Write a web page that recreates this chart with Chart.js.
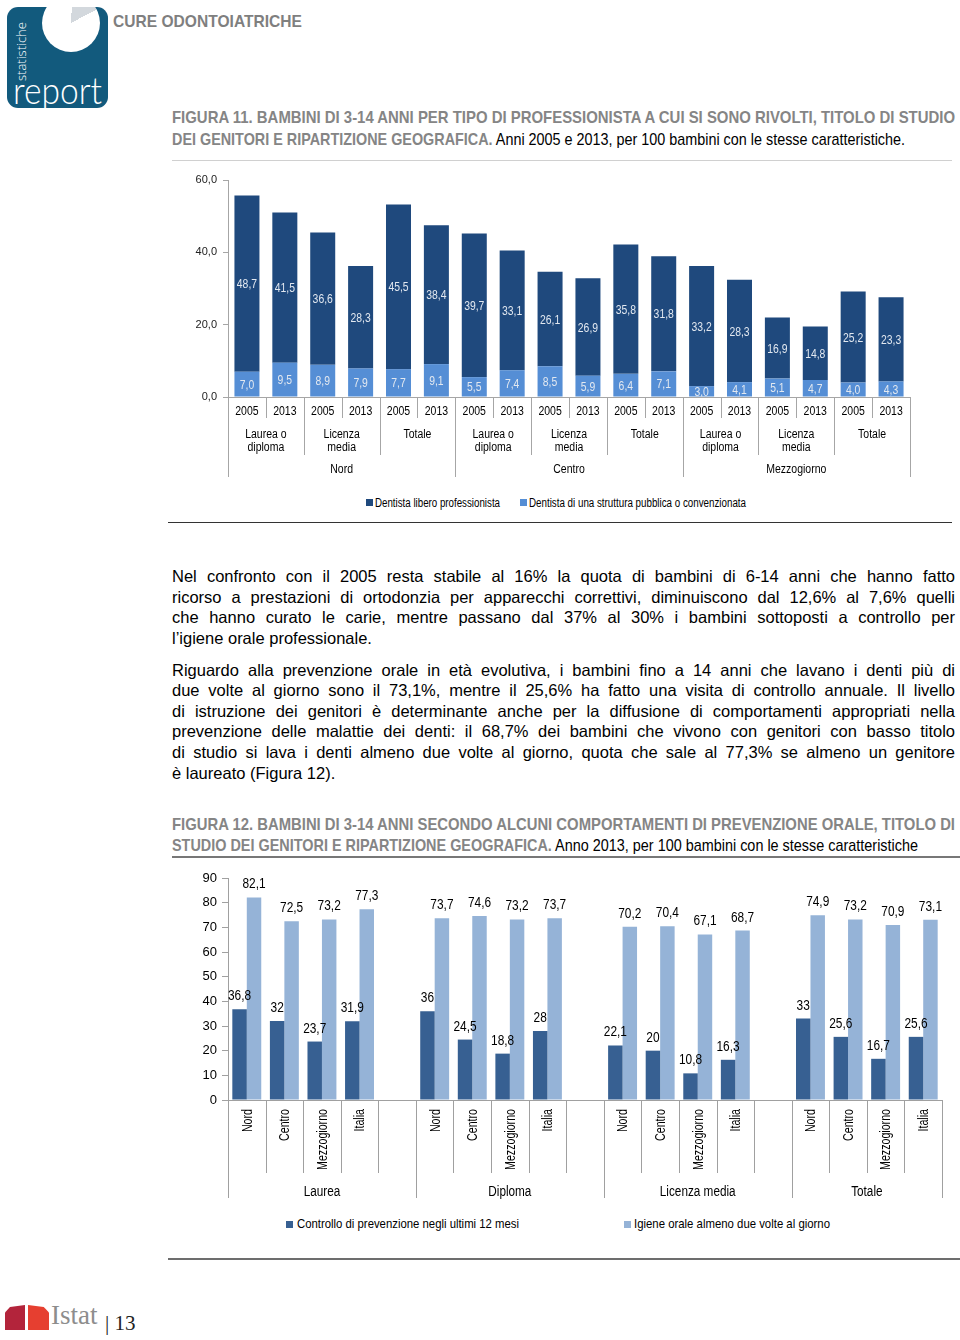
<!DOCTYPE html>
<html lang="it">
<head>
<meta charset="utf-8">
<title>Cure odontoiatriche</title>
<script src="https://cdn.jsdelivr.net/npm/chart.js@4.4.1/dist/chart.umd.min.js"></script>
<style>
  body { margin:0; width:960px; height:1340px; position:relative; overflow:hidden; background:#fff;
         font-family:"Liberation Sans", Arial, sans-serif; color:#000; }
  .abs { position:absolute; white-space:nowrap; }
  .narrow { font-family:"Liberation Sans Narrow","Arial Narrow","Liberation Sans",Arial,sans-serif; }
  .fit { transform-origin:0 50%; }
  .tit { font-size:17px; line-height:20px; left:172px; }
  .g { color:#858585; font-weight:bold; }
  .txt { font-size:16.5px; line-height:20px; left:172px; }
  .sq { position:absolute; width:7px; height:7px; }
  .rule { position:absolute; }
</style>
</head>
<body>

<!-- logo -->
<div class="abs" style="left:7px;top:7px;width:101px;height:101px;border-radius:11px;background:#125a7d;overflow:hidden">
  <div style="position:absolute;left:35px;top:-13px;width:58px;height:58px;border-radius:50%;background:conic-gradient(#fff 0deg 3deg,#d3d8dd 3deg 62deg,#fff 62deg 360deg)"></div>
  <div style="position:absolute;left:8px;top:74px;transform-origin:0 0;transform:rotate(-90deg);color:#fff;font-size:13px;line-height:13px;font-family:'Open Sans','Liberation Sans',sans-serif;font-weight:300">statistiche</div>
  <div class="fit" data-w="89" style="position:absolute;left:6px;top:63px;white-space:nowrap;color:#fff;font-size:37px;line-height:40px;font-family:Lato,'Open Sans',sans-serif;font-weight:300">report</div>
</div>
<div class="abs narrow fit" data-w="189" style="left:113px;top:12px;font-size:17px;line-height:20px;font-weight:bold;color:#7f7f7f">CURE ODONTOIATRICHE</div>

<!-- figura 11 -->
<div class="abs narrow fit tit g" data-w="783" style="top:108px">FIGURA 11. BAMBINI DI 3-14 ANNI PER TIPO DI PROFESSIONISTA A CUI SI SONO RIVOLTI, TITOLO DI STUDIO</div>
<div class="abs narrow fit tit" data-w="733" style="top:130px"><span class="g">DEI GENITORI E RIPARTIZIONE GEOGRAFICA.</span> Anni 2005 e 2013, per 100 bambini con le stesse caratteristiche.</div>
<div class="rule" style="left:172px;top:160px;width:780px;height:1px;background:#d0d0d0"></div>

<canvas id="fig11" class="abs" width="760" height="325" style="left:170px;top:165px"></canvas>

<div class="sq" style="left:366px;top:499px;background:#1f497d"></div>
<div class="abs narrow fit" data-w="125" style="left:375px;top:496px;font-size:12px;line-height:14px">Dentista libero professionista</div>
<div class="sq" style="left:520px;top:499px;background:#558ed5"></div>
<div class="abs narrow fit" data-w="217" style="left:529px;top:496px;font-size:12px;line-height:14px">Dentista di una struttura pubblica o convenzionata</div>
<div class="rule" style="left:168px;top:522px;width:784px;height:1px;background:#333"></div>

<!-- testo -->
<div class="abs txt just" data-w="783" style="top:566px">Nel confronto con il 2005 resta stabile al 16% la quota di bambini di 6-14 anni che hanno fatto</div>
<div class="abs txt just" data-w="783" style="top:587px">ricorso a prestazioni di ortodonzia per apparecchi correttivi, diminuiscono dal 12,6% al 7,6% quelli</div>
<div class="abs txt just" data-w="783" style="top:607px">che hanno curato le carie, mentre passano dal 37% al 30% i bambini sottoposti a controllo per</div>
<div class="abs txt" style="top:628px">l’igiene orale professionale.</div>

<div class="abs txt just" data-w="783" style="top:660px">Riguardo alla prevenzione orale in età evolutiva, i bambini fino a 14 anni che lavano i denti più di</div>
<div class="abs txt just" data-w="783" style="top:680px">due volte al giorno sono il 73,1%, mentre il 25,6% ha fatto una visita di controllo annuale. Il livello</div>
<div class="abs txt just" data-w="783" style="top:701px">di istruzione dei genitori è determinante anche per la diffusione di comportamenti appropriati nella</div>
<div class="abs txt just" data-w="783" style="top:721px">prevenzione delle malattie dei denti: il 68,7% dei bambini che vivono con genitori con basso titolo</div>
<div class="abs txt just" data-w="783" style="top:742px">di studio si lava i denti almeno due volte al giorno, quota che sale al 77,3% se almeno un genitore</div>
<div class="abs txt" style="top:763px">è laureato (Figura 12).</div>

<!-- figura 12 -->
<div class="abs narrow fit tit g" data-w="783" style="top:815px">FIGURA 12. BAMBINI DI 3-14 ANNI SECONDO ALCUNI COMPORTAMENTI DI PREVENZIONE ORALE, TITOLO DI</div>
<div class="abs narrow fit tit" data-w="746" style="top:836px"><span class="g">STUDIO DEI GENITORI E RIPARTIZIONE GEOGRAFICA.</span> Anno 2013, per 100 bambini con le stesse caratteristiche</div>
<div class="rule" style="left:172px;top:856px;width:788px;height:2px;background:#777"></div>

<canvas id="fig12" class="abs" width="790" height="345" style="left:170px;top:865px"></canvas>

<div class="sq" style="left:286px;top:1221px;background:#376092"></div>
<div class="abs narrow fit" data-w="222" style="left:297px;top:1216px;font-size:13px;line-height:16px">Controllo di prevenzione negli ultimi 12 mesi</div>
<div class="sq" style="left:624px;top:1221px;background:#95b3d7"></div>
<div class="abs narrow fit" data-w="196" style="left:634px;top:1216px;font-size:13px;line-height:16px">Igiene orale almeno due volte al giorno</div>
<div class="rule" style="left:168px;top:1258px;width:792px;height:2px;background:#6d6d6d"></div>

<!-- piede -->
<div class="abs" style="left:5px;top:1305px;width:20px;height:25px;background:#b3243b;clip-path:polygon(0 30%,25% 8%,100% 0,100% 100%,0 100%)"></div>
<div class="abs" style="left:28px;top:1305px;width:21px;height:25px;background:#e63f30;clip-path:polygon(0 0,75% 8%,100% 30%,100% 100%,0 100%)"></div>
<div class="abs" style="left:51px;top:1300px;font-family:'Liberation Serif',serif;font-size:27px;line-height:30px;color:#8d8d8d">Istat</div>
<div class="abs" style="left:105px;top:1311px;font-family:'Liberation Serif',serif;font-size:21px;line-height:24px;color:#222">|&nbsp;13</div>

<script>
const FONT = '"Liberation Sans", Arial, sans-serif';
Chart.defaults.font.family = FONT;
Chart.defaults.color = '#000';

// ===== Figura 11 data =====
const years11 = ['2005','2013','2005','2013','2005','2013','2005','2013','2005','2013','2005','2013','2005','2013','2005','2013','2005','2013'];
const titoli11 = [['Laurea o','diploma'], ['Licenza','media'], ['Totale']];
const regioni11 = ['Nord', 'Centro', 'Mezzogiorno'];
const libero11 = [48.7, 41.5, 36.6, 28.3, 45.5, 38.4, 39.7, 33.1, 26.1, 26.9, 35.8, 31.8, 33.2, 28.3, 16.9, 14.8, 25.2, 23.3];
const pubblica11 = [7.0, 9.5, 8.9, 7.9, 7.7, 9.1, 5.5, 7.4, 8.5, 5.9, 6.4, 7.1, 3.0, 4.1, 5.1, 4.7, 4.0, 4.3];

// ===== Figura 12 data =====
const gruppi12 = ['Laurea', 'Diploma', 'Licenza media', 'Totale'];
const aree12 = ['Nord', 'Centro', 'Mezzogiorno', 'Italia'];
const controllo12 = [36.8, 32, 23.7, 31.9, 36, 24.5, 18.8, 28, 22.1, 20, 10.8, 16.3, 33, 25.6, 16.7, 25.6];
const igiene12 = [82.1, 72.5, 73.2, 77.3, 73.7, 74.6, 73.2, 73.7, 70.2, 70.4, 67.1, 68.7, 74.9, 73.2, 70.9, 73.1];

const fmt1 = v => v.toFixed(1).replace('.', ',');
const fmt = v => String(v).replace('.', ',');

// categorie con una colonna vuota fra i gruppi
const labels12 = [], ctrlData = [], igieneData = [];
gruppi12.forEach((g, gi) => {
    aree12.forEach((a, ai) => {
        labels12.push(a);
        ctrlData.push(controllo12[gi * 4 + ai]);
        igieneData.push(igiene12[gi * 4 + ai]);
    });
    if (gi < gruppi12.length - 1) { labels12.push(''); ctrlData.push(null); igieneData.push(null); }
});

// condensed text (no narrow font installed)
function narrowText(ctx, text, x, y, sx, rot) {
    ctx.save();
    ctx.translate(x, y);
    if (rot) ctx.rotate(rot);
    ctx.scale(sx, 1);
    ctx.fillText(text, 0, 0);
    ctx.restore();
}

// labels inside stacked bars
const insideLabels = {
    id: 'insideLabels',
    afterDatasetsDraw(chart) {
        const ctx = chart.ctx;
        ctx.save();
        ctx.font = '13px ' + FONT;
        ctx.fillStyle = '#e2e8f0';
        ctx.textAlign = 'center';
        ctx.textBaseline = 'middle';
        chart.data.datasets.forEach((ds, i) => {
            chart.getDatasetMeta(i).data.forEach((bar, j) => {
                narrowText(ctx, fmt1(ds.data[j]), bar.x, (bar.y + bar.base) / 2 + 1, 0.8);
            });
        });
        ctx.restore();
    }
};

// labels above bars
const topLabels = {
    id: 'topLabels',
    afterDatasetsDraw(chart) {
        const ctx = chart.ctx;
        ctx.save();
        ctx.font = '14px ' + FONT;
        ctx.fillStyle = '#000';
        ctx.textAlign = 'center';
        ctx.textBaseline = 'alphabetic';
        chart.data.datasets.forEach((ds, i) => {
            chart.getDatasetMeta(i).data.forEach((bar, j) => {
                if (ds.data[j] == null) return;
                narrowText(ctx, fmt(ds.data[j]), bar.x, bar.y - 9, 0.85);
            });
        });
        ctx.restore();
    }
};

// multi level axis fig 11
const axis11 = {
    id: 'axis11',
    afterDraw(chart) {
        const { ctx, scales: { x, y } } = chart;
        const y0 = Math.round(y.getPixelForValue(0));
        const step = x.getPixelForValue(1) - x.getPixelForValue(0);
        const edge = i => x.getPixelForValue(0) - step / 2 + i * step;
        ctx.save();
        ctx.strokeStyle = '#a6a6a6';
        ctx.lineWidth = 1;
        ctx.beginPath();
        ctx.moveTo(edge(0), y0 + 0.5);
        ctx.lineTo(edge(18), y0 + 0.5);
        for (let i = 0; i <= 18; i++) {
            const d = i % 6 === 0 ? 80 : (i % 2 === 0 ? 58 : 21);
            const xx = Math.round(edge(i)) + 0.5;
            ctx.moveTo(xx, y0);
            ctx.lineTo(xx, y0 + d);
        }
        ctx.stroke();
        ctx.fillStyle = '#000';
        ctx.textAlign = 'center';
        ctx.textBaseline = 'middle';
        ctx.font = '12.5px ' + FONT;
        years11.forEach((t, i) => narrowText(ctx, t, x.getPixelForValue(i), y0 + 15, 0.84));
        for (let g = 0; g < 9; g++) {
            const cx = (edge(g * 2) + edge(g * 2 + 2)) / 2;
            titoli11[g % 3].forEach((t, k) => narrowText(ctx, t, cx, y0 + 38 + k * 13, 0.84));
        }
        regioni11.forEach((t, r) => narrowText(ctx, t, (edge(r * 6) + edge(r * 6 + 6)) / 2, y0 + 73, 0.84));
        ctx.restore();
    }
};

// multi level axis fig 12
const axis12 = {
    id: 'axis12',
    afterDraw(chart) {
        const { ctx, scales: { x, y } } = chart;
        const y0 = Math.round(y.getPixelForValue(0));
        const n = chart.data.labels.length;
        const step = x.getPixelForValue(1) - x.getPixelForValue(0);
        const edge = i => x.getPixelForValue(0) - step / 2 + i * step;
        ctx.save();
        ctx.strokeStyle = '#a0a0a0';
        ctx.lineWidth = 1;
        ctx.beginPath();
        ctx.moveTo(edge(0), y0 + 0.5);
        ctx.lineTo(edge(n), y0 + 0.5);
        for (let i = 0; i <= n; i++) {
            const d = (i % 5 === 0 || i === n) ? 98 : 73;
            const xx = Math.round(edge(i)) + 0.5;
            ctx.moveTo(xx, y0);
            ctx.lineTo(xx, y0 + d);
        }
        ctx.stroke();
        ctx.fillStyle = '#000';
        ctx.font = '14px ' + FONT;
        ctx.textAlign = 'right';
        ctx.textBaseline = 'middle';
        chart.data.labels.forEach((t, i) => {
            if (!t) return;
            narrowText(ctx, t, x.getPixelForValue(i) + 1, y0 + 9, 0.76, -Math.PI / 2);
        });
        ctx.textAlign = 'center';
        gruppi12.forEach((g, gi) => {
            const cx = (edge(gi * 5) + edge(Math.min(gi * 5 + 5, n))) / 2;
            narrowText(ctx, g, cx, y0 + 92, 0.84);
        });
        ctx.restore();
    }
};

new Chart(document.getElementById('fig11'), {
    type: 'bar',
    data: {
        labels: years11,
        datasets: [{
            label: 'Dentista di una struttura pubblica o convenzionata',
            data: pubblica11,
            backgroundColor: '#558ed5',
            barPercentage: 0.66,
            categoryPercentage: 1
        }, {
            label: 'Dentista libero professionista',
            data: libero11,
            backgroundColor: '#1f497d',
            barPercentage: 0.66,
            categoryPercentage: 1
        }]
    },
    options: {
        responsive: false,
        animation: false,
        layout: { padding: { top: 15, right: 20, bottom: 93, left: 0 } },
        plugins: { legend: { display: false }, tooltip: { enabled: false } },
        scales: {
            x: { stacked: true, display: false },
            y: {
                stacked: true, min: 0, max: 60,
                ticks: { stepSize: 20, callback: v => fmt1(v), font: { size: 11 }, color: '#222', padding: 6 },
                grid: { drawOnChartArea: false, drawTicks: true, tickLength: 5, color: '#a6a6a6' },
                border: { color: '#a6a6a6' },
                afterFit: s => { s.width = 58; }
            }
        }
    },
    plugins: [insideLabels, axis11]
});

new Chart(document.getElementById('fig12'), {
    type: 'bar',
    data: {
        labels: labels12,
        datasets: [{
            label: 'Controllo di prevenzione negli ultimi 12 mesi',
            data: ctrlData,
            backgroundColor: '#376092',
            barPercentage: 1,
            categoryPercentage: 0.77
        }, {
            label: 'Igiene orale almeno due volte al giorno',
            data: igieneData,
            backgroundColor: '#95b3d7',
            barPercentage: 1,
            categoryPercentage: 0.77
        }]
    },
    options: {
        responsive: false,
        animation: false,
        layout: { padding: { top: 13, right: 18, bottom: 110, left: 0 } },
        plugins: { legend: { display: false }, tooltip: { enabled: false } },
        scales: {
            x: { display: false },
            y: {
                min: 0, max: 90,
                ticks: { stepSize: 10, font: { size: 13 }, color: '#000', padding: 5 },
                grid: { drawOnChartArea: false, drawTicks: true, tickLength: 6, color: '#a0a0a0' },
                border: { color: '#a0a0a0' },
                afterFit: s => { s.width = 58; }
            }
        }
    },
    plugins: [topLabels, axis12]
});

// fit text lines to the widths of the page
document.querySelectorAll('[data-w]').forEach(el => {
    const w = +el.dataset.w;
    const nat = el.getBoundingClientRect().width;
    if (el.classList.contains('just')) {
        const gaps = el.textContent.split(' ').length - 1;
        el.style.wordSpacing = ((w - nat) / gaps) + 'px';
    } else {
        el.style.transform = 'scaleX(' + (w / nat) + ')';
    }
});
</script>
</body>
</html>
